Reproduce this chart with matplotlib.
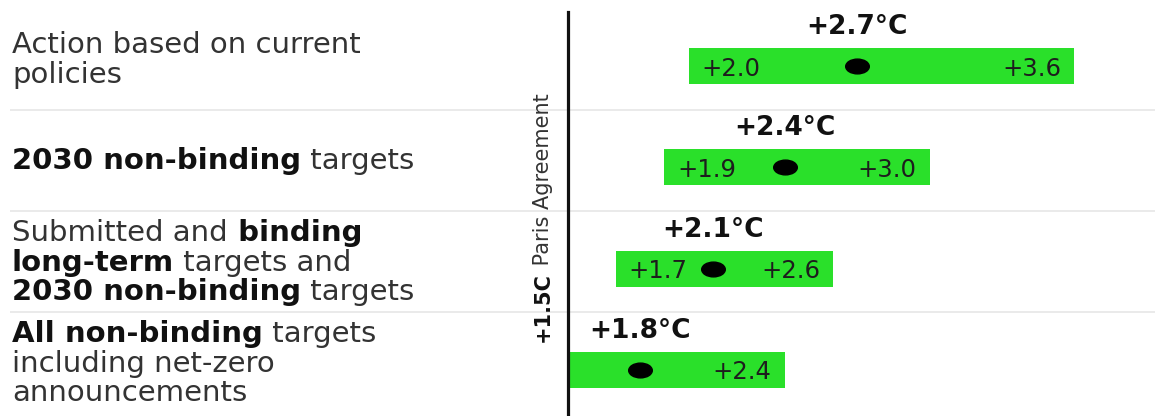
import matplotlib.pyplot as plt
from matplotlib.path import Path
from matplotlib.transforms import Affine2D, blended_transform_factory

plt.rcParams['font.family'] = 'DejaVu Sans'

# scenario labels: each line is a list of (text, bold) pieces
scenario_lines = [
    [[("Action based on current", False)], [("policies", False)]],
    [[("2030 non-binding", True), (" targets", False)]],
    [[("Submitted and", False), (" binding", True)],
     [("long-term", True), (" targets and", False)],
     [("2030 non-binding", True), (" targets", False)]],
    [[("All non-binding", True), (" targets", False)],
     [("including net-zero", False)],
     [("announcements", False)]],
]
central = [2.7, 2.4, 2.1, 1.8]
low = [2.0, 1.9, 1.7, 1.5]
high = [3.6, 3.0, 2.6, 2.4]
paris_limit = 1.5

green = '#2ae02a'
rows = list(range(len(central)))

fig = plt.figure(figsize=(11.55, 4.16), dpi=100)
ax = fig.add_axes([0, 0, 1, 1])

# pixel-ish scale so the 1.5C line sits at the right spot
px_per_deg = 241.0
x0 = paris_limit - 568 / px_per_deg
ax.set_xlim(x0, x0 + 1155 / px_per_deg)
row_px = 101.3
ax.set_ylim((416 - 66) / row_px, -66 / row_px)
ax.axis('off')

# light separators between scenarios
ax.hlines([r + 0.43 for r in rows[:-1]], x0 + 10 / px_per_deg, ax.get_xlim()[1],
          color='#e6e6e6', lw=1.2, zorder=0)

# range bars and central estimate
ax.barh(rows, [h - l for h, l in zip(high, low)], left=low, height=0.355,
        color=green, zorder=2)
ellipse = Path.unit_circle().transformed(Affine2D().scale(1.6, 1.0))
ax.plot(central, rows, ls='none', marker=ellipse, ms=17, color='black', zorder=3)

for r, c, lo, hi in zip(rows, central, low, high):
    ax.text(c, r - 0.385, f"+{c:.1f}\u00b0C", ha='center', va='center',
            fontsize=19, weight='bold', color='#111111', zorder=3)
    if lo > paris_limit:
        ax.annotate(f"+{lo:.1f}", xy=(lo, r), xytext=(9, 0), textcoords='offset points',
                    ha='left', va='center_baseline', fontsize=17.5, color='#1d1d1d', zorder=3)
    ax.annotate(f"+{hi:.1f}", xy=(hi, r), xytext=(-9.5, 0), textcoords='offset points',
                ha='right', va='center_baseline', fontsize=17.5, color='#1d1d1d', zorder=3)

# Paris agreement line
ax.axvline(paris_limit, ymin=0, ymax=1 - 12 / 416, color='#111111', lw=2.3, zorder=4)
lab = ax.text(x0 + 543 / px_per_deg, (342 - 66) / row_px, "+1.5C", rotation=90,
              ha='center', va='bottom', fontsize=15, weight='bold', color='#111111')
ax.annotate(" Paris Agreement", xy=(0.5, 1), xycoords=lab, rotation=90,
            ha='center', va='bottom', fontsize=15, color='#333333')

# scenario names on the left, mixing bold and regular pieces
trans = blended_transform_factory(ax.transAxes, ax.transData)
line_gap = 29.5 / row_px
for r, lines in zip(rows, scenario_lines):
    n = len(lines)
    for j, pieces in enumerate(lines):
        y = r + 0.02 + (j - (n - 1) / 2) * line_gap
        prev = None
        for txt, bold in pieces:
            kw = dict(fontsize=21, weight='bold' if bold else 'normal',
                      color='#111111' if bold else '#333333')
            if prev is None:
                prev = ax.text(12 / 1155, y, txt, transform=trans, ha='left',
                               va='baseline', **kw)
            else:
                prev = ax.annotate(txt, xy=(1, 0), xycoords=prev, ha='left',
                                   va='bottom', **kw)

fig.savefig('out.png', dpi=100)
